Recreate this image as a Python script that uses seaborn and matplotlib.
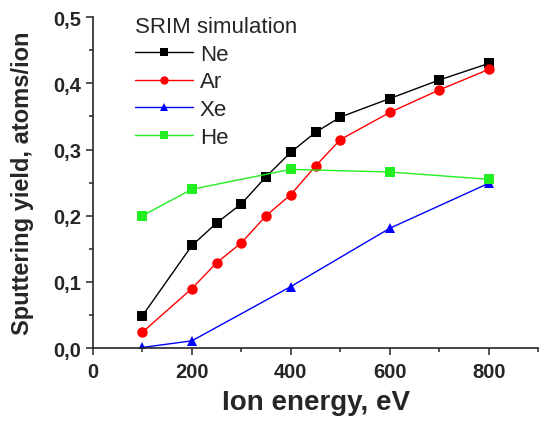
import numpy as np
import pandas as pd
import matplotlib
matplotlib.use('Agg')
import matplotlib.pyplot as plt
import seaborn as sns
from matplotlib.ticker import FuncFormatter, MultipleLocator

# 数据 (SRIM simulation)
ne_energy = [100, 200, 250, 300, 350, 400, 450, 500, 600, 700, 800]
ne_yield = [0.049, 0.155, 0.189, 0.218, 0.259, 0.296, 0.326, 0.349, 0.377, 0.405, 0.430]

ar_energy = [100, 200, 250, 300, 350, 400, 450, 500, 600, 700, 800]
ar_yield = [0.024, 0.090, 0.129, 0.159, 0.200, 0.232, 0.275, 0.315, 0.356, 0.390, 0.421]

xe_energy = [100, 200, 400, 600, 800]
xe_yield = [0.001, 0.011, 0.093, 0.181, 0.249]

he_energy = [100, 200, 400, 600, 800]
he_yield = [0.200, 0.240, 0.270, 0.266, 0.255]

series = ['Ne', 'Ar', 'Xe', 'He']
colors = {'Ne': 'black', 'Ar': 'red', 'Xe': 'blue', 'He': '#22ee22'}
markers = {'Ne': 's', 'Ar': 'o', 'Xe': '^', 'He': 's'}

df = pd.concat([
    pd.DataFrame({'energy': ne_energy, 'yield': ne_yield, 'gas': 'Ne'}),
    pd.DataFrame({'energy': ar_energy, 'yield': ar_yield, 'gas': 'Ar'}),
    pd.DataFrame({'energy': xe_energy, 'yield': xe_yield, 'gas': 'Xe'}),
    pd.DataFrame({'energy': he_energy, 'yield': he_yield, 'gas': 'He'}),
])

sns.set_style('ticks')
plt.rcParams['font.family'] = ['Liberation Sans', 'DejaVu Sans']

fig = plt.figure(figsize=(5.39, 4.31), dpi=100)
ax = fig.add_axes([0.1725, 0.19, 0.826, 0.768])

sns.lineplot(data=df, x='energy', y='yield', hue='gas', style='gas',
             hue_order=series, style_order=series, palette=colors,
             markers=markers, dashes=False, markersize=7.5, linewidth=1,
             markeredgewidth=0, ax=ax)

ax.set_xlim(0, 900)
ax.set_ylim(0, 0.5)
ax.xaxis.set_major_locator(MultipleLocator(200))
ax.xaxis.set_minor_locator(MultipleLocator(100))
ax.yaxis.set_major_locator(MultipleLocator(0.1))
ax.yaxis.set_minor_locator(MultipleLocator(0.05))
ax.xaxis.set_major_formatter(FuncFormatter(lambda v, p: f'{v:.0f}'))
ax.yaxis.set_major_formatter(FuncFormatter(lambda v, p: f'{v:.1f}'.replace('.', ',')))

ax.tick_params(which='major', direction='out', length=5, width=1.1, labelsize=14.5)
ax.tick_params(axis='x', which='major', pad=5)
ax.tick_params(which='minor', direction='out', length=3, width=1.1)
for lab in ax.get_xticklabels() + ax.get_yticklabels():
    lab.set_fontweight('bold')

for side in ['top', 'right']:
    ax.spines[side].set_visible(False)
for side in ['left', 'bottom']:
    ax.spines[side].set_linewidth(1.2)

ax.set_xlabel('Ion energy, eV', fontsize=20, fontweight='bold', labelpad=6)
ax.set_ylabel('Sputtering yield, atoms/ion', fontsize=17, fontweight='bold', labelpad=14)

leg = ax.legend(title='SRIM simulation', loc='upper left', frameon=False,
                fontsize=16, title_fontsize=16, bbox_to_anchor=(0.075, 1.03),
                handlelength=2.6, handletextpad=0.3, labelspacing=0.3, borderaxespad=0)
leg._legend_box.align = 'left'
for h in leg.legend_handles:
    h.set_markersize(6)

fig.savefig('out.png', dpi=100)
